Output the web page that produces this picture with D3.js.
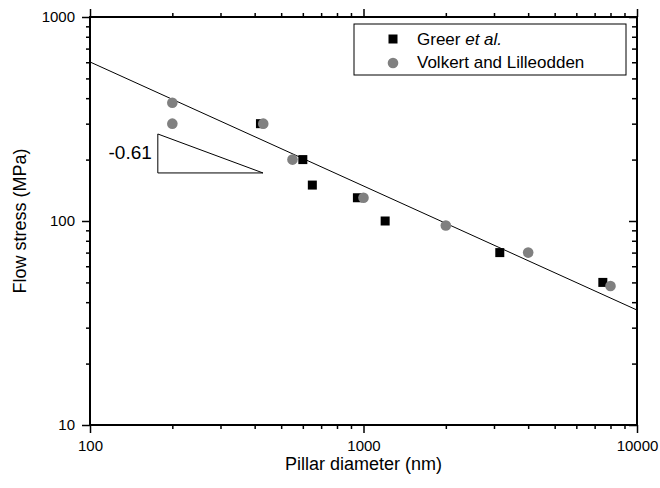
<!DOCTYPE html>
<html>
<head>
<meta charset="utf-8">
<script src="https://cdn.jsdelivr.net/npm/d3@7"></script>
<style>
  body { margin: 0; background: #fff; }
  svg { display: block; font-family: Arial, "Liberation Sans", Helvetica, sans-serif; }
</style>
</head>
<body>
<div id="chart"></div>
<script>
// pillar diameter (nm) vs flow stress (MPa)
const greerD = [420, 600, 650, 950, 1200, 3150, 7500];
const greerS = [300, 200, 150, 130, 100, 70, 50];
const volkD = [200, 200, 430, 550, 1000, 2000, 4000, 8000];
const volkS = [380, 300, 300, 200, 130, 95, 70, 48];
// power law fit, exponent -0.61
const fitD = [100, 10000];
const fitS = [602, 36.6];
// slope triangle corners
const triD = [177, 177, 429];
const triS = [267, 172, 172];
const xTicks = [100, 1000, 10000];
const yTicks = [10, 100, 1000];

const W = 660, H = 488;
const margin = {top: 17, right: 23, bottom: 63, left: 90};
const w = W - margin.left - margin.right;
const h = H - margin.top - margin.bottom;

const svg = d3.select("#chart").append("svg")
  .attr("width", W).attr("height", H);
const g = svg.append("g")
  .attr("transform", "translate(" + margin.left + "," + margin.top + ")");

const x = d3.scaleLog().domain([100, 10000]).range([0, w]);
const y = d3.scaleLog().domain([10, 1000]).range([h, 0]);

function minors(dom) {
  let out = [];
  for (let p = dom[0]; p < dom[1]; p *= 10)
    for (let k = 2; k <= 9; k++) out.push(p * k);
  return out;
}
const xMinor = minors([100, 10000]);
const yMinor = minors([10, 1000]);

// ticks: outward on bottom/left, inward on top/right
function tickAxis(axisFn, scale, vals, size, labels) {
  return axisFn(scale).tickValues(vals).tickSize(size).tickSizeOuter(0)
    .tickPadding(7).tickFormat(labels ? d3.format("d") : "");
}
const axes = [
  [g.append("g").attr("transform", "translate(0," + h + ")"), d3.axisBottom, x, xTicks, xMinor, 8, 4, true],
  [g.append("g"), d3.axisLeft, y, yTicks, yMinor, 8, 4, true],
  [g.append("g"), d3.axisBottom, x, xTicks, xMinor, -8, -4, false],
  [g.append("g").attr("transform", "translate(" + w + ",0)"), d3.axisRight, y, yTicks, yMinor, -8, -5, false]
];
axes.forEach(function(a) {
  a[0].call(tickAxis(a[1], a[2], a[3], a[5], a[7]));
  a[0].append("g").call(tickAxis(a[1], a[2], a[4], a[6], false));
  a[0].selectAll("path.domain").remove();
  a[0].selectAll("line").attr("stroke", "#000").attr("stroke-width", 1.5);
  a[0].selectAll("text").attr("fill", "#000").style("font-size", "15px");
});

// frame
g.append("rect").attr("x", 0).attr("y", 0).attr("width", w).attr("height", h)
  .attr("fill", "none").attr("stroke", "#000").attr("stroke-width", 2);

// fit line
g.append("path")
  .datum(fitD.map((d, i) => [d, fitS[i]]))
  .attr("d", d3.line().x(d => x(d[0])).y(d => y(d[1])))
  .attr("fill", "none").attr("stroke", "#000").attr("stroke-width", 1);

// slope triangle
g.append("path")
  .datum(triD.map((d, i) => [d, triS[i]]))
  .attr("d", d => d3.line().x(p => x(p[0])).y(p => y(p[1]))(d) + "Z")
  .attr("fill", "none").attr("stroke", "#000").attr("stroke-width", 1);
g.append("text")
  .attr("x", x(triD[0]) - 6).attr("y", (y(triS[0]) + y(triS[1])) / 2 + 6)
  .attr("text-anchor", "end").style("font-size", "19px").text("-0.61");

// data
g.selectAll(".greer").data(greerD).enter().append("rect")
  .attr("class", "greer")
  .attr("x", d => x(d) - 4.5)
  .attr("y", (d, i) => y(greerS[i]) - 4.5)
  .attr("width", 9).attr("height", 9).attr("fill", "#000");
g.selectAll(".volk").data(volkD).enter().append("circle")
  .attr("class", "volk")
  .attr("cx", d => x(d))
  .attr("cy", (d, i) => y(volkS[i]))
  .attr("r", 5.3).attr("fill", "#808080");

// legend
const leg = svg.append("g");
leg.append("rect").attr("x", 354).attr("y", 24).attr("width", 272).attr("height", 51)
  .attr("fill", "#fff").attr("stroke", "#000").attr("stroke-width", 1);
leg.append("rect").attr("x", 388.5).attr("y", 34.5).attr("width", 9).attr("height", 9).attr("fill", "#000");
leg.append("circle").attr("cx", 393).attr("cy", 63).attr("r", 5.3).attr("fill", "#808080");
const t1 = leg.append("text").attr("x", 417).attr("y", 45).style("font-size", "17px");
t1.append("tspan").text("Greer ");
t1.append("tspan").style("font-style", "italic").text("et al.");
leg.append("text").attr("x", 417).attr("y", 68).style("font-size", "17px").text("Volkert and Lilleodden");

// axis titles
svg.append("text").attr("x", margin.left + w / 2).attr("y", 470)
  .attr("text-anchor", "middle").style("font-size", "18px").text("Pillar diameter (nm)");
svg.append("text")
  .attr("transform", "translate(26," + (margin.top + h / 2) + ") rotate(-90)")
  .attr("text-anchor", "middle").style("font-size", "18px").text("Flow stress (MPa)");
</script>
</body>
</html>
